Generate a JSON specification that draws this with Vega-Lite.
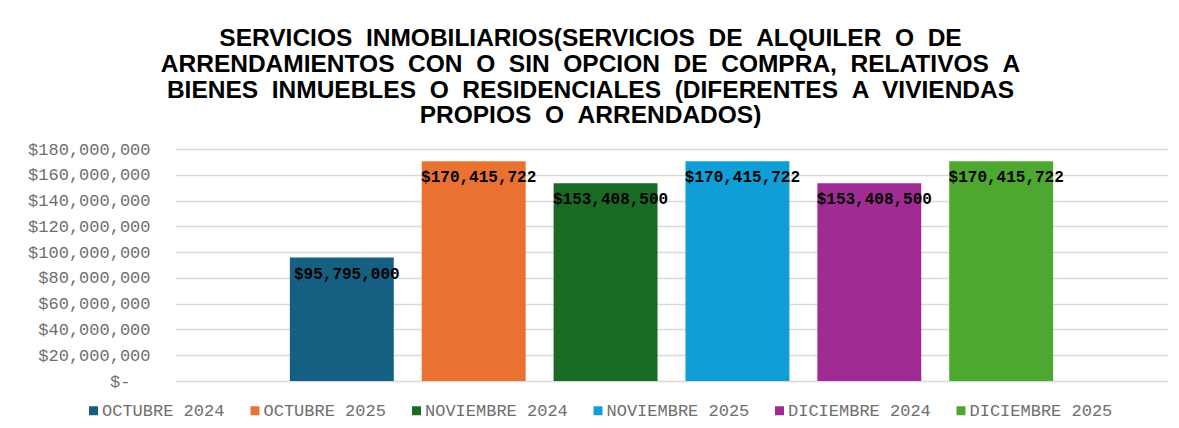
{
  "$schema": "https://vega.github.io/schema/vega-lite/v6.json",
  "autosize": {"type": "none"},
  "width": 993,
  "height": 232,
  "padding": {"left": 175, "top": 149, "right": 11, "bottom": 47},
  "background": "white",
  "title": {
    "text": ["SERVICIOS \u00a0INMOBILIARIOS(SERVICIOS \u00a0DE \u00a0ALQUILER \u00a0O \u00a0DE", "ARRENDAMIENTOS \u00a0CON \u00a0O \u00a0SIN \u00a0OPCION \u00a0DE \u00a0COMPRA, \u00a0RELATIVOS \u00a0A", "BIENES \u00a0INMUEBLES \u00a0O \u00a0RESIDENCIALES \u00a0(DIFERENTES \u00a0A \u00a0VIVIENDAS", "PROPIOS \u00a0O \u00a0ARRENDADOS)"],
    "font": "Liberation Sans",
    "fontSize": 24.5,
    "fontWeight": "bold",
    "color": "#000000",
    "lineHeight": 25.7,
    "anchor": "middle",
    "dx": -81,
    "offset": 11
  },
  "data": {
    "values": [
      {"serie": "OCTUBRE 2024", "valor": 95795000},
      {"serie": "OCTUBRE 2025", "valor": 170415722},
      {"serie": "NOVIEMBRE 2024", "valor": 153408500},
      {"serie": "NOVIEMBRE 2025", "valor": 170415722},
      {"serie": "DICIEMBRE 2024", "valor": 153408500},
      {"serie": "DICIEMBRE 2025", "valor": 170415722}
    ]
  },
  "encoding": {
    "x": {
      "field": "serie",
      "type": "nominal",
      "sort": null,
      "axis": null,
      "scale": {"paddingInner": 0.212, "paddingOuter": 0.871}
    },
    "y": {
      "field": "valor",
      "type": "quantitative",
      "scale": {"domain": [0, 180000000], "nice": false},
      "axis": {
        "title": null,
        "values": [0, 20000000, 40000000, 60000000, 80000000, 100000000, 120000000, 140000000, 160000000, 180000000],
        "format": "$,.0f",
        "labelExpr": "datum.value === 0 ? '$-' : datum.label",
        "domain": false,
        "ticks": false,
        "labelPadding": {"condition": {"test": "datum.value === 0", "value": 45}, "value": 25},
        "labelFont": "Liberation Mono",
        "labelFontSize": 17,
        "labelColor": "#6e6e6e",
        "gridColor": "#d9d9d9",
        "gridWidth": 1.5
      }
    }
  },
  "layer": [
    {
      "mark": {"type": "bar"},
      "encoding": {
        "color": {
          "field": "serie",
          "type": "nominal",
          "sort": null,
          "scale": {
            "domain": ["OCTUBRE 2024", "OCTUBRE 2025", "NOVIEMBRE 2024", "NOVIEMBRE 2025", "DICIEMBRE 2024", "DICIEMBRE 2025"],
            "range": ["#156082", "#E97132", "#196B24", "#0F9ED5", "#A02B93", "#4EA72E"]
          },
          "legend": {
            "title": null,
            "orient": "none",
            "direction": "horizontal",
            "columns": 6,
            "legendX": -90,
            "legendY": 253,
            "symbolType": "square",
            "symbolSize": 81,
            "symbolStrokeWidth": 0,
            "labelFont": "Liberation Mono",
            "labelFontSize": 17,
            "labelColor": "#6e6e6e",
            "labelOffset": 0,
            "columnPadding": 21.5,
            "labelLimit": 300
          }
        }
      }
    },
    {
      "mark": {
        "type": "text",
        "font": "Liberation Mono",
        "fontSize": 16,
        "fontWeight": "bold",
        "color": "#000000",
        "baseline": "middle",
        "align": "center",
        "dx": 5,
        "dy": 16
      },
      "encoding": {
        "text": {"field": "valor", "type": "quantitative", "format": "$,.0f"}
      }
    }
  ],
  "config": {
    "view": {"stroke": null}
  }
}
